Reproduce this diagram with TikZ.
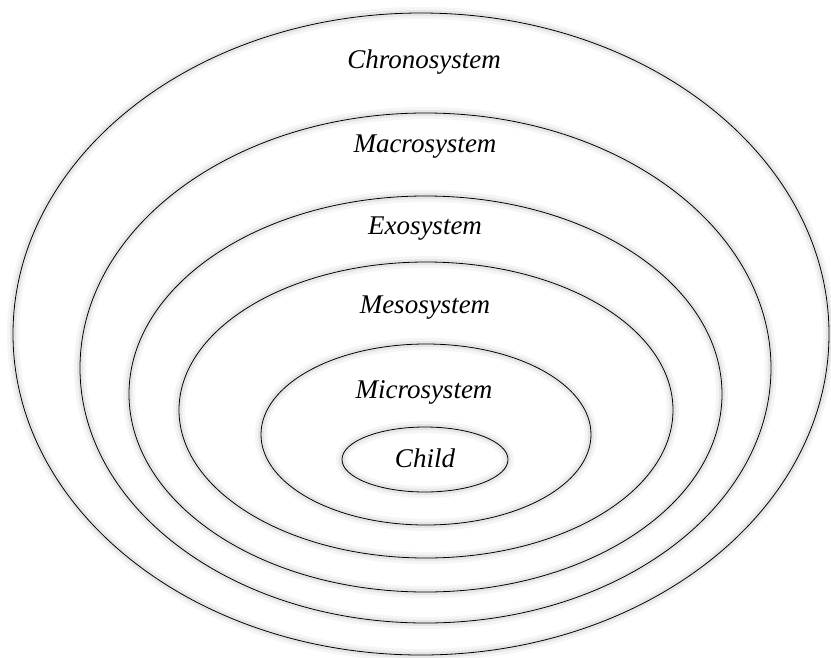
\documentclass[tikz,border=0pt]{standalone}
\usepackage{fontspec}
\setmainfont{Liberation Serif}
\usepackage{tikz}
\usetikzlibrary{shapes.geometric, positioning}

\begin{document}
\begin{tikzpicture}[
  x=1pt, y=-1pt,
  ring/.style={ellipse, draw, line width=0.8pt, inner sep=0pt, outer sep=0pt,
               preaction={draw=black, line width=12pt, opacity=0.04},
               preaction={draw=black, line width=6pt, opacity=0.06}},
  lbl/.style={font=\fontsize{27}{32}\selectfont\itshape, inner sep=0pt}
]
\useasboundingbox[fill=white] (0,0) rectangle (831,657);
% nested systems, outer to inner
\node[ring, minimum width=816pt, minimum height=642pt] (chrono) at (421,334)   {};
\node[ring, minimum width=691pt, minimum height=510pt] (macro)  at (425.5,368) {};
\node[ring, minimum width=593pt, minimum height=396pt] (exo)    at (425.5,394) {};
\node[ring, minimum width=494pt, minimum height=296pt] (meso)   at (426,410)   {};
\node[ring, minimum width=330pt, minimum height=181pt] (micro)  at (426,434.5) {};
\node[ring, minimum width=166pt, minimum height=65pt]  (child)  at (425,459.5) {};
% labels
\node[lbl] (chronoL) at (424,62)  {Chronosystem};
\node[lbl] (macroL)  at (425,147) {Macrosystem};
\node[lbl] (exoL)    at (425,229) {Exosystem};
\node[lbl] (mesoL)   at (425,308) {Mesosystem};
\node[lbl] (microL)  at (424,392) {Microsystem};
\node[lbl] (childL)  at (425,458) {Child};
\end{tikzpicture}
\end{document}
